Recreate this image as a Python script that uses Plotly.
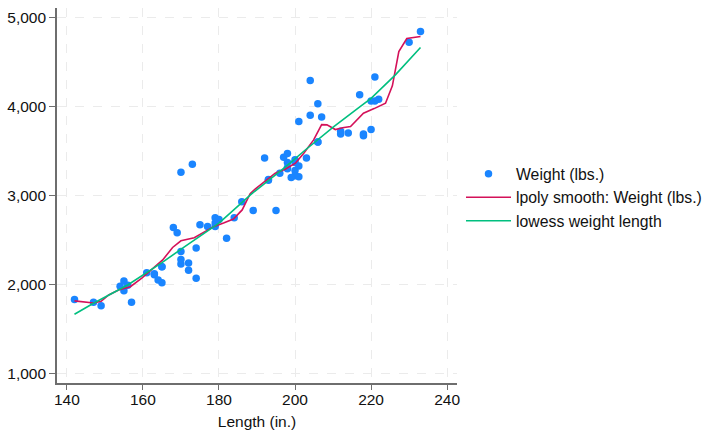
import plotly.graph_objects as go

# Scatter data: length (in.) and weight (lbs.)
length = [186,173,168,196,222,218,170,200,207,200,221,204,204,163,212,193,200,179,197,163,
          206,206,220,147,179,233,230,201,169,221,212,198,217,195,220,198,198,218,200,180,
          206,170,157,165,182,201,214,198,201,199,203,179,189,174,177,170,165,170,184,161,
          172,149,154,192,142,164,174,165,175,172,155,155,156,193]
weight = [2930,3350,2640,3250,4080,3670,2230,3280,3880,3400,4330,3900,4290,2110,3690,3180,3220,2750,3430,2120,
          3600,3600,3740,1800,2650,4840,4720,3830,2580,4060,3720,3370,4130,2830,4060,3310,3300,3690,3370,2730,
          4030,3260,1800,2200,2520,3330,3700,3470,3210,3200,3420,2690,2830,2070,2650,2370,2020,2280,2750,2130,
          2240,1760,1980,3420,1830,2050,2410,2200,2670,2160,2040,1930,1990,3170]

# lpoly smooth curve
lpoly_x = [142, 147, 149, 151, 153.6, 156.7, 159.7, 162.8, 165.2, 167.8, 170, 173.5, 176.6, 178.6, 181.2,
           183.8, 186.1, 188.2, 189.5, 192, 194.8, 197.4, 200.1, 202.3, 204.9, 207, 208.4, 210.6, 212.5,
           214.6, 218, 220.8, 223.8, 225.6, 227.3, 229.4, 233]
lpoly_y = [1815, 1792, 1810, 1882, 1938, 1975, 2070, 2182, 2275, 2415, 2490, 2525, 2605, 2649, 2690,
           2735, 2837, 3020, 3070, 3150, 3249, 3294, 3362, 3474, 3624, 3795, 3792, 3740, 3760,
           3773, 3924, 3975, 4036, 4230, 4616, 4762, 4784]

# lowess curve
lowess_x = [142, 147, 156, 165, 171, 180, 188.5, 197.5, 202.7, 210.2, 217.2, 220, 226.4, 233]
lowess_y = [1665, 1789, 1994, 2245, 2425, 2688, 3015, 3320, 3510, 3773, 4000, 4090, 4354, 4661]

x_ticks = [140, 160, 180, 200, 220, 240]
y_ticks = [1000, 2000, 3000, 4000, 5000]
y_tick_text = ["1,000", "2,000", "3,000", "4,000", "5,000"]

FONT = "Liberation Sans, Arial, sans-serif"

fig = go.Figure()
fig.add_trace(go.Scatter(
    x=length, y=weight, mode="markers", name="Weight (lbs.)",
    marker=dict(color="#1a85ff", size=7.5, line=dict(width=0)),
))
fig.add_trace(go.Scatter(
    x=lpoly_x, y=lpoly_y, mode="lines", name="lpoly smooth: Weight (lbs.)",
    line=dict(color="#d41159", width=1.6),
))
fig.add_trace(go.Scatter(
    x=lowess_x, y=lowess_y, mode="lines", name="lowess weight length",
    line=dict(color="#00bf7f", width=1.6),
))

axis_common = dict(
    showgrid=True, gridcolor="#ebebeb", griddash="dash", gridwidth=1.2,
    zeroline=False, showline=True, linecolor="#6e6e6e", linewidth=1.6,
    ticks="outside", tickwidth=1.3, tickcolor="#6e6e6e",
    tickfont=dict(family=FONT, size=15.5, color="#111111"),
    mirror=False,
)

fig.update_xaxes(
    range=[137.4, 242.6], tickvals=x_ticks, ticklen=5, ticklabelstandoff=-3,
    title=dict(text="Length (in.)", font=dict(family=FONT, size=15.5, color="#111111"), standoff=11),
    **axis_common,
)
fig.update_yaxes(
    range=[893, 5105], tickvals=y_ticks, ticktext=y_tick_text, ticklen=6,
    **axis_common,
)

fig.update_layout(
    width=703, height=430,
    margin=dict(l=57, r=246, t=8, b=47, autoexpand=False),
    paper_bgcolor="white", plot_bgcolor="white",
    font=dict(family=FONT, size=15.5, color="#111111"),
    legend=dict(
        xref="container", x=461 / 703, xanchor="left",
        yref="paper", y=0.495, yanchor="middle",
        font=dict(family=FONT, size=15.8, color="#111111"),
        bgcolor="rgba(0,0,0,0)", tracegroupgap=0, itemwidth=45,
    ),
    showlegend=True,
)

fig.write_html("out.html", config={"displayModeBar": False},
               post_script="document.body.style.margin='0';")
